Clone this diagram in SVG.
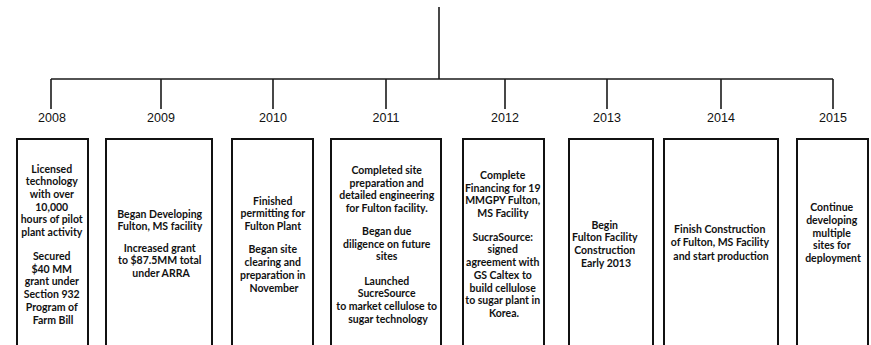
<svg xmlns="http://www.w3.org/2000/svg" width="871" height="345" viewBox="0 0 871 345">
  <style>
    .bg { fill: #ffffff; }
    .line { stroke: #1a1a1a; stroke-width: 1.6; fill: none; }
    .box { fill: #ffffff; stroke: #111111; stroke-width: 2; }
    .year { font-family: "Liberation Sans", Arial, sans-serif; font-size: 12.5px; fill: #111111; text-anchor: middle; }
    .note { font-family: Lato, "Open Sans", sans-serif; font-weight: 700; font-size: 10.5px; fill: #111111; text-anchor: middle; }
  </style>
  <rect class="bg" x="0" y="0" width="871" height="345"/>

  <!-- timeline trunk, spine and year ticks -->
  <g id="connectors">
    <line class="line" x1="439" y1="7" x2="439" y2="79"/>
    <line class="line" x1="51" y1="79" x2="833" y2="79"/>
    <line class="line" x1="51" y1="79" x2="51" y2="109"/>
    <line class="line" x1="161" y1="79" x2="161" y2="109"/>
    <line class="line" x1="273" y1="79" x2="273" y2="109"/>
    <line class="line" x1="386" y1="79" x2="386" y2="109"/>
    <line class="line" x1="505" y1="79" x2="505" y2="109"/>
    <line class="line" x1="607" y1="79" x2="607" y2="109"/>
    <line class="line" x1="721" y1="79" x2="721" y2="109"/>
    <line class="line" x1="833" y1="79" x2="833" y2="109"/>
  </g>

  <g id="y2008">
    <text class="year" x="52" y="122">2008</text>
    <rect class="box" x="17" y="139" width="71" height="215"/>
    <text class="note">
      <tspan x="53" y="172.5">Licensed</tspan>
      <tspan x="53" y="185.2">technology</tspan>
      <tspan x="53" y="197.9">with over</tspan>
      <tspan x="53" y="210.6">10,000</tspan>
      <tspan x="53" y="223.3">hours of pilot</tspan>
      <tspan x="53" y="236">plant activity</tspan>
      <tspan x="53" y="260">Secured</tspan>
      <tspan x="53" y="272.7">$40 MM</tspan>
      <tspan x="53" y="285.4">grant under</tspan>
      <tspan x="53" y="298.1">Section 932</tspan>
      <tspan x="53" y="310.8">Program of</tspan>
      <tspan x="53" y="323.5">Farm Bill</tspan>
    </text>
  </g>

  <g id="y2009">
    <text class="year" x="161" y="122">2009</text>
    <rect class="box" x="106" y="139" width="106" height="215"/>
    <text class="note">
      <tspan x="161" y="217.5">Began Developing</tspan>
      <tspan x="161" y="230">Fulton, MS facility</tspan>
      <tspan x="161" y="251.5">Increased grant</tspan>
      <tspan x="161" y="264">to $87.5MM total</tspan>
      <tspan x="161" y="276.5">under ARRA</tspan>
    </text>
  </g>

  <g id="y2010">
    <text class="year" x="273" y="122">2010</text>
    <rect class="box" x="232" y="139" width="81" height="215"/>
    <text class="note">
      <tspan x="274" y="204.5">Finished</tspan>
      <tspan x="274" y="217">permitting for</tspan>
      <tspan x="274" y="230">Fulton Plant</tspan>
      <tspan x="274" y="252.5">Began site</tspan>
      <tspan x="274" y="265.5">clearing and</tspan>
      <tspan x="274" y="278.5">preparation in</tspan>
      <tspan x="274" y="291.5">November</tspan>
    </text>
  </g>

  <g id="y2011">
    <text class="year" x="386" y="122">2011</text>
    <rect class="box" x="331" y="139" width="110" height="215"/>
    <text class="note">
      <tspan x="388" y="173.5">Completed site</tspan>
      <tspan x="388" y="186.5">preparation and</tspan>
      <tspan x="388" y="199">detailed engineering</tspan>
      <tspan x="388" y="211.5">for Fulton facility.</tspan>
      <tspan x="388" y="234.5">Began due</tspan>
      <tspan x="388" y="247.5">diligence on future</tspan>
      <tspan x="388" y="260">sites</tspan>
      <tspan x="388" y="284.5">Launched</tspan>
      <tspan x="388" y="297">SucreSource</tspan>
      <tspan x="388" y="309.5">to market cellulose to</tspan>
      <tspan x="388" y="322.5">sugar technology</tspan>
    </text>
  </g>

  <g id="y2012">
    <text class="year" x="505" y="122">2012</text>
    <rect class="box" x="463" y="139" width="81" height="215"/>
    <text class="note">
      <tspan x="504" y="178.5">Complete</tspan>
      <tspan x="504" y="191.5">Financing for 19</tspan>
      <tspan x="504" y="204">MMGPY Fulton,</tspan>
      <tspan x="504" y="217">MS Facility</tspan>
      <tspan x="504" y="240.5">SucraSource:</tspan>
      <tspan x="504" y="253">signed</tspan>
      <tspan x="504" y="266">agreement with</tspan>
      <tspan x="504" y="278.5">GS Caltex to</tspan>
      <tspan x="504" y="291.5">build cellulose</tspan>
      <tspan x="504" y="304">to sugar plant in</tspan>
      <tspan x="504" y="317">Korea.</tspan>
    </text>
  </g>

  <g id="y2013">
    <text class="year" x="607" y="122">2013</text>
    <rect class="box" x="569" y="139" width="84" height="215"/>
    <text class="note">
      <tspan x="606" y="228.5">Begin</tspan>
      <tspan x="606" y="241">Fulton Facility</tspan>
      <tspan x="606" y="254">Construction</tspan>
      <tspan x="606" y="266.5">Early 2013</tspan>
    </text>
  </g>

  <g id="y2014">
    <text class="year" x="721" y="122">2014</text>
    <rect class="box" x="664" y="139" width="114" height="215"/>
    <text class="note">
      <tspan x="721" y="233">Finish Construction</tspan>
      <tspan x="721" y="246">of Fulton, MS Facility</tspan>
      <tspan x="721" y="259.5">and start production</tspan>
    </text>
  </g>

  <g id="y2015">
    <text class="year" x="833" y="122">2015</text>
    <rect class="box" x="797" y="139" width="71" height="215"/>
    <text class="note">
      <tspan x="833" y="210.5">Continue</tspan>
      <tspan x="833" y="223.5">developing</tspan>
      <tspan x="833" y="236.5">multiple</tspan>
      <tspan x="833" y="248.5">sites for</tspan>
      <tspan x="833" y="261.5">deployment</tspan>
    </text>
  </g>
</svg>
